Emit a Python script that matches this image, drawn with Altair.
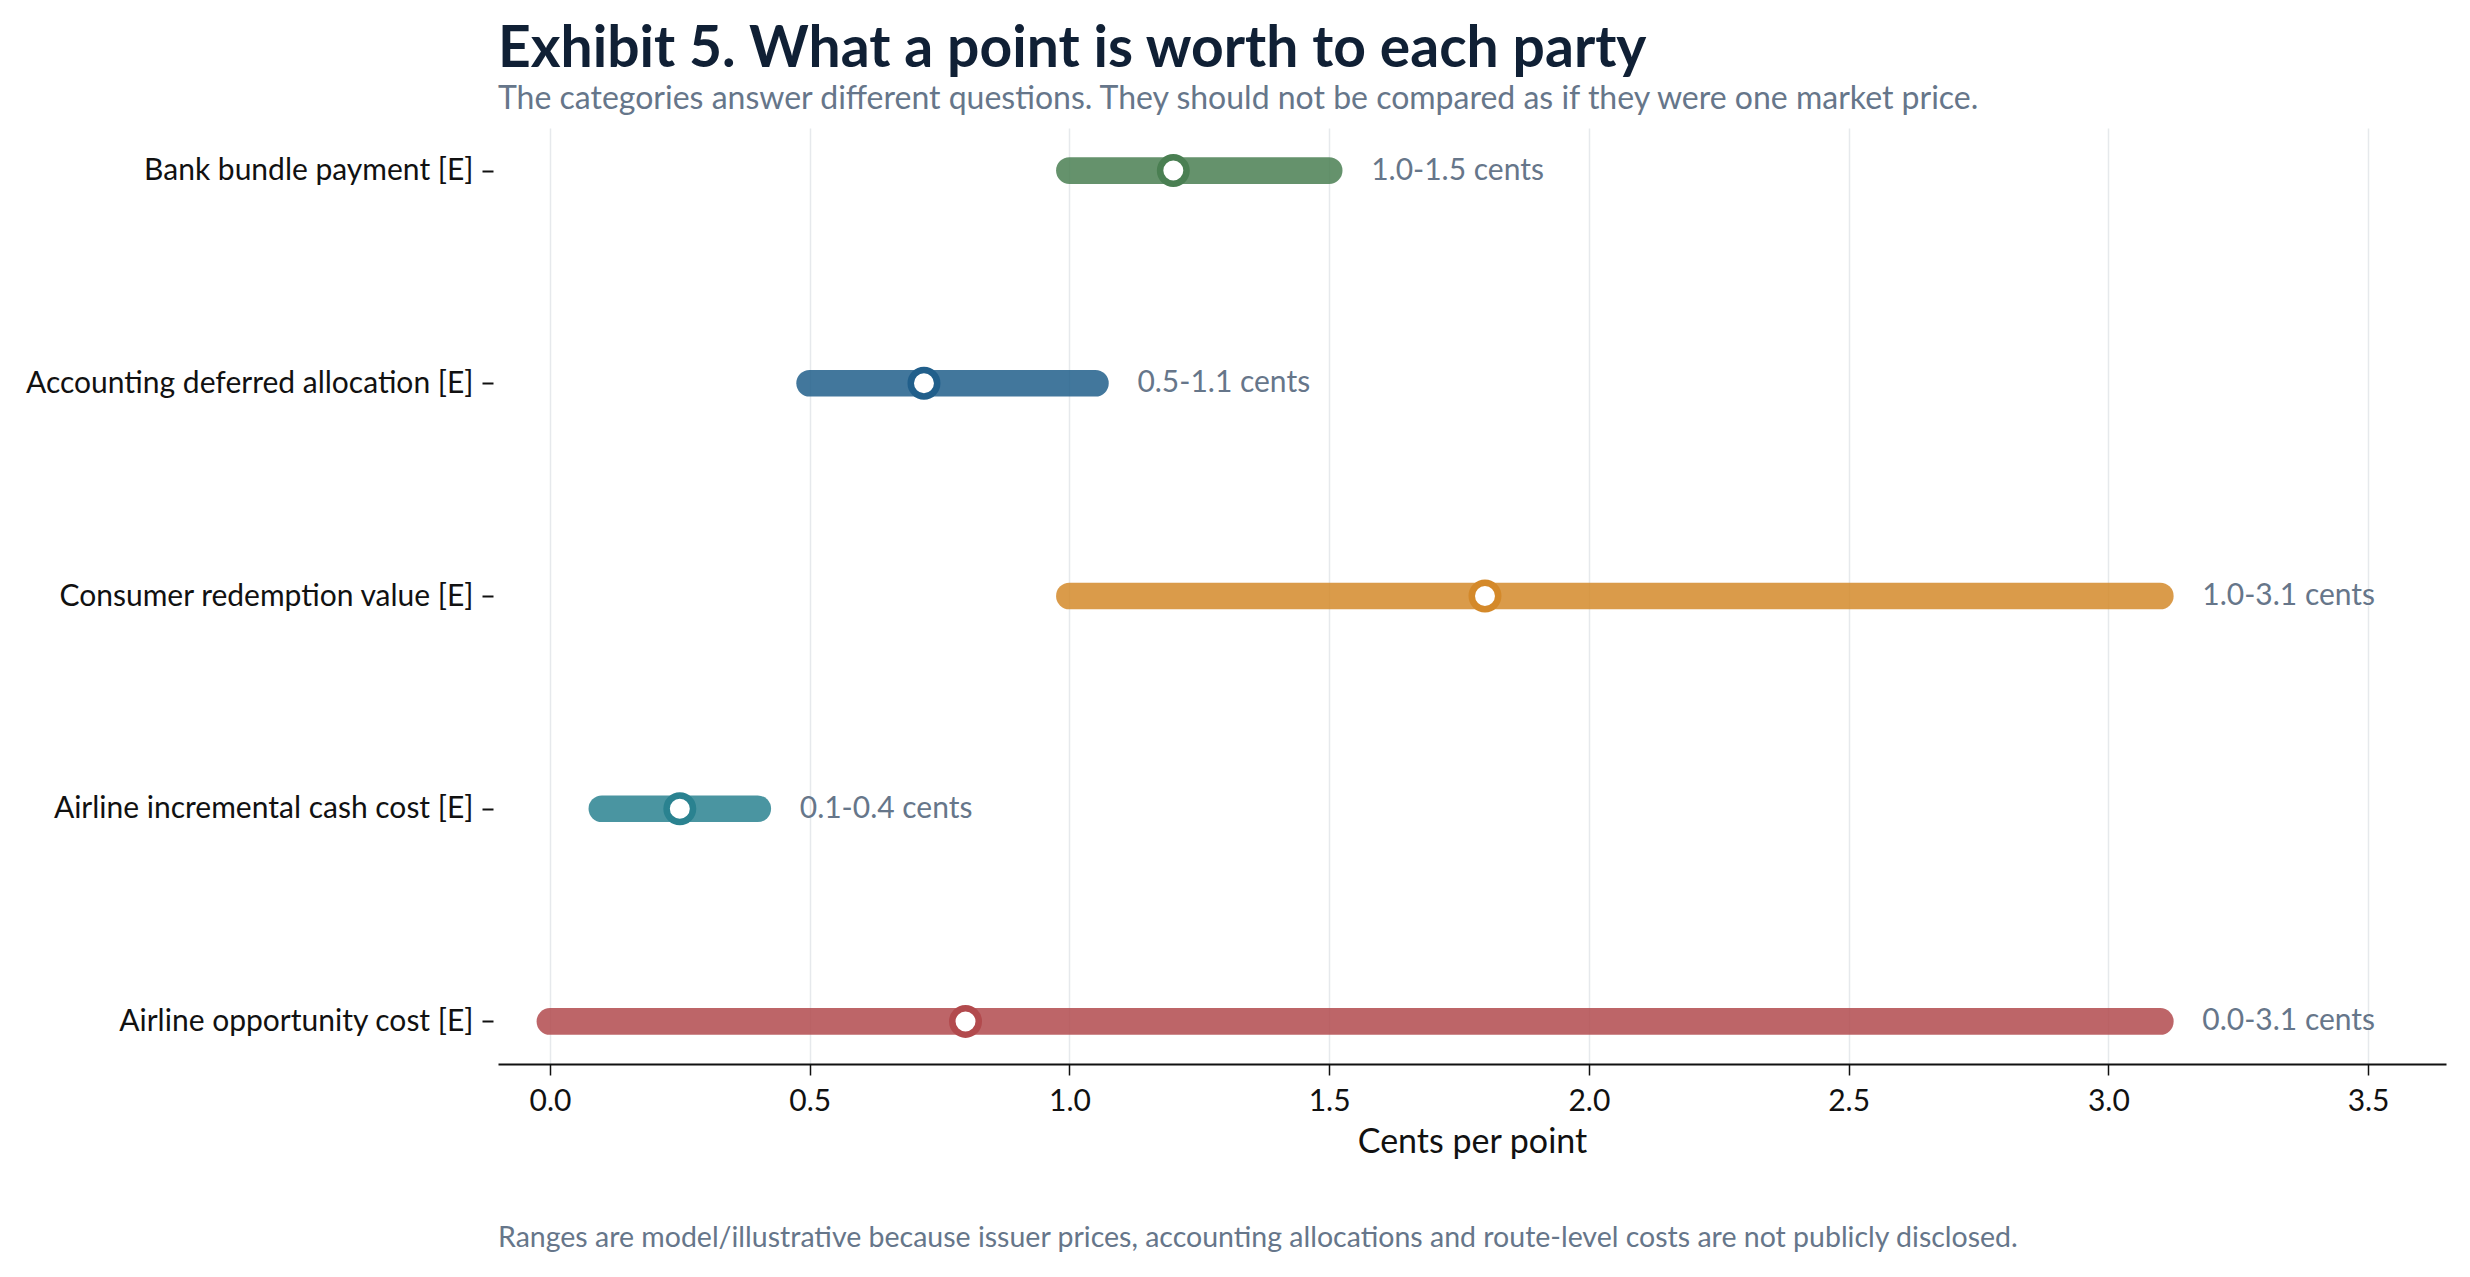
import altair as alt
import pandas as pd

# Value ranges (cents per point) for each party's view of a loyalty point
categories = [
    "Bank bundle payment [E]",
    "Accounting deferred allocation [E]",
    "Consumer redemption value [E]",
    "Airline incremental cash cost [E]",
    "Airline opportunity cost [E]",
]
lows = [1.0, 0.5, 1.0, 0.1, 0.0]
highs = [1.5, 1.05, 3.1, 0.4, 3.1]
mids = [1.2, 0.72, 1.8, 0.25, 0.8]
range_labels = [
    "1.0-1.5 cents",
    "0.5-1.1 cents",
    "1.0-3.1 cents",
    "0.1-0.4 cents",
    "0.0-3.1 cents",
]
colors = ["#4a7f52", "#215f8b", "#d4892a", "#2a8290", "#b24a4d"]
x_ticks = [0.0, 0.5, 1.0, 1.5, 2.0, 2.5, 3.0, 3.5]

title_text = "Exhibit 5. What a point is worth to each party"
subtitle_text = ("The categories answer different questions. "
                 "They should not be compared as if they were one market price.")
footnote_text = ("Ranges are model/illustrative because issuer prices, accounting "
                 "allocations and route-level costs are not publicly disclosed.")

FONT = "Lato"
GREY = "#66768a"
INK = "#111111"
W, H = 1948, 936

df = pd.DataFrame({
    "category": categories,
    "low": lows,
    "high": highs,
    "mid": mids,
    "label": range_labels,
})

color_scale = alt.Scale(domain=categories, range=colors)
x_scale = alt.Scale(domain=[-0.1, 3.65], nice=False, zero=False)

base = alt.Chart(df).encode(
    y=alt.Y(
        "category:N",
        sort=categories,
        scale=alt.Scale(type="point", padding=0.2),
        axis=alt.Axis(
            title=None,
            domain=False,
            grid=False,
            ticks=True,
            offset=5,
            tickSize=11,
            tickWidth=2,
            tickColor=INK,
            labelFontSize=30,
            labelFont=FONT,
            labelColor=INK,
            labelPadding=9,
            labelLimit=800,
        ),
    )
)

bars = base.mark_rule(strokeWidth=26.7, strokeCap="round", opacity=0.85).encode(
    x=alt.X(
        "low:Q",
        scale=x_scale,
        axis=alt.Axis(
            title="Cents per point",
            values=x_ticks,
            format=".1f",
            grid=True,
            gridColor="#e6e9ec",
            gridWidth=1.5,
            domainColor=INK,
            domainWidth=2,
            tickColor=INK,
            tickSize=11,
            tickWidth=1.5,
            labelFontSize=30,
            labelFont=FONT,
            labelColor=INK,
            labelPadding=11,
            titleFontSize=34,
            titleFont=FONT,
            titleFontWeight="normal",
            titleColor=INK,
            titlePadding=9,
        ),
    ),
    x2="high:Q",
    color=alt.Color("category:N", scale=color_scale, legend=None),
)

dots = base.mark_circle(size=700, fill="white", strokeWidth=6.5, opacity=1).encode(
    x="mid:Q",
    stroke=alt.Stroke("category:N", scale=color_scale, legend=None),
)

labels = base.mark_text(
    align="left", baseline="middle", dx=42, fontSize=30, font=FONT, color=GREY
).encode(
    x="high:Q",
    text="label:N",
)

footnote = alt.Chart(pd.DataFrame({"note": [footnote_text]})).mark_text(
    align="left", baseline="middle", fontSize=28.5, font=FONT, color=GREY
).encode(
    x=alt.value(0),
    y=alt.value(1110),
    text="note:N",
)

chart = (
    alt.layer(bars, dots, labels, footnote)
    .properties(
        width=W,
        height=H,
        autosize=alt.AutoSizeParams(type="none"),
        padding={"left": 498, "top": 128, "right": 24, "bottom": 213},
        background="white",
        title=alt.TitleParams(
            text=title_text,
            subtitle=subtitle_text,
            anchor="start",
            frame="group",
            font=FONT,
            fontSize=57,
            fontWeight="bold",
            color="#102035",
            subtitleFont=FONT,
            subtitleFontSize=32,
            subtitleColor=GREY,
            subtitlePadding=5,
            offset=12,
        ),
    )
    .configure_view(stroke=None)
)

chart.save("out.html", embed_options={"renderer": "svg", "actions": False})
